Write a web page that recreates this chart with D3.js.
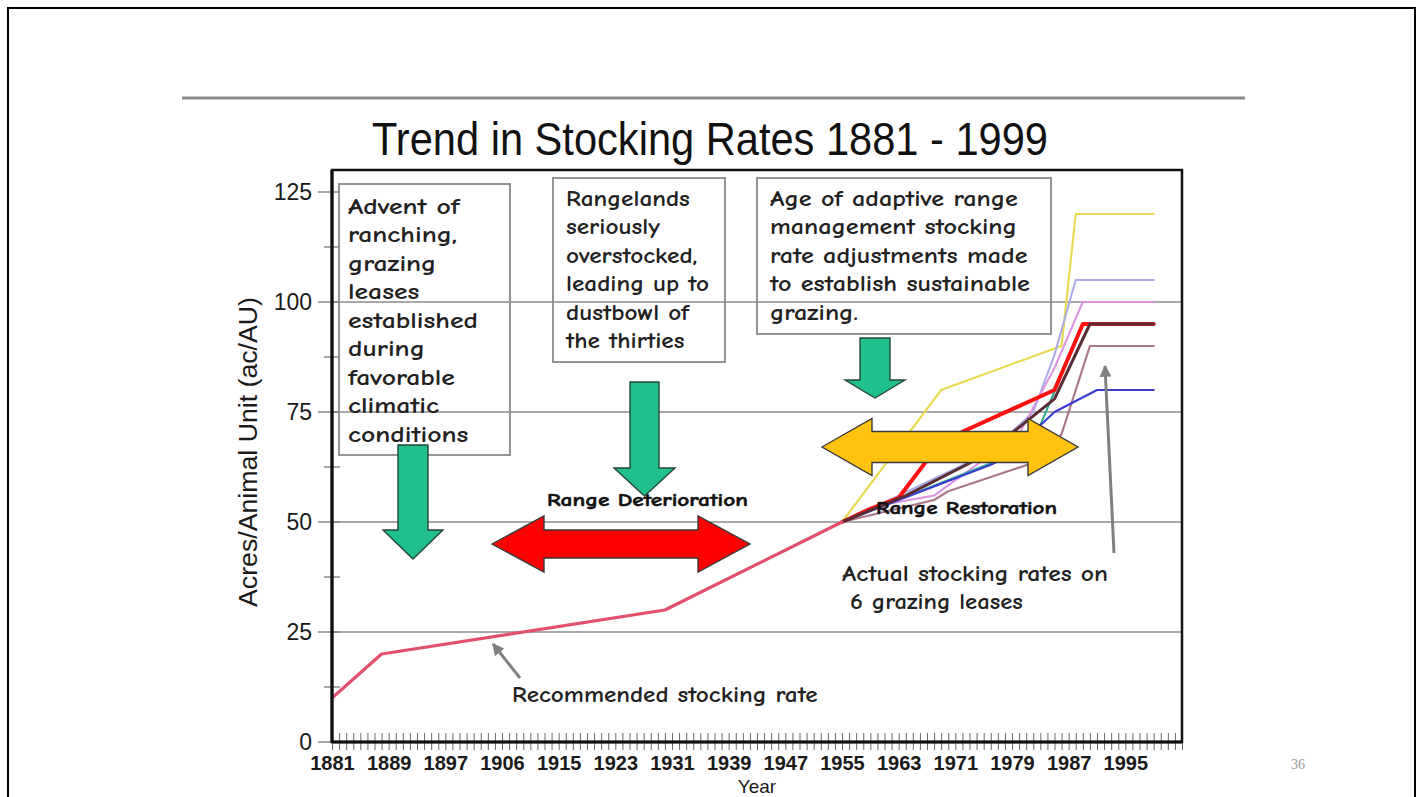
<!DOCTYPE html>
<html>
<head>
<meta charset="utf-8">
<script src="https://cdn.jsdelivr.net/npm/d3@7"></script>
<style>
  html, body { margin: 0; padding: 0; background: #fff; }
  svg { display: block; }
</style>
</head>
<body>
<svg id="chart" width="1423" height="797"></svg>
<script>
// ---- data ----
const tickYears = [1881, 1889, 1897, 1906, 1915, 1923, 1931, 1939, 1947, 1955, 1963, 1971, 1979, 1987, 1995];
const yTicks = [0, 25, 50, 75, 100, 125];
const gridValues = [25, 50, 75, 100];

// recommended stocking rate (acres per animal unit)
const recommended = [[1881, 10], [1888, 20], [1930, 30], [1955, 50]];

// actual stocking rates on the grazing leases
const leaseRed      = [[1955, 50], [1959, 53], [1963, 55.5], [1967, 64], [1972, 70.5], [1985, 80], [1989, 95], [1999, 95]];
const leaseYellow   = [[1955, 50], [1969, 80], [1986, 90], [1988, 120], [1999, 120]];
const leaseLavender = [[1955, 50], [1963, 56], [1976, 66], [1982, 75], [1985, 88], [1988, 105], [1999, 105]];
const leaseOrchid   = [[1955, 50], [1961, 54], [1968, 56], [1980, 70], [1985, 85], [1989, 100], [1999, 100]];
const leaseTeal     = [[1955, 50], [1966, 57], [1977, 64], [1983, 72], [1989, 95], [1999, 95]];
const leaseMaroon   = [[1955, 50], [1964, 56], [1975, 65], [1985, 78], [1990, 95], [1999, 95]];
const leaseRosy     = [[1955, 50], [1968, 55], [1970, 57], [1983, 64], [1986, 70], [1990, 90], [1999, 90]];
const leaseBlue     = [[1955, 50], [1963, 55], [1976, 63], [1981, 67], [1983, 72], [1985, 75], [1991, 80], [1999, 80]];

const annotationFont = "'Comic Sans MS', 'Comic Neue', 'DejaVu Sans', sans-serif";
const axisFont = "'Liberation Sans', Arial, sans-serif";

// ---- layout ----
const W = 1423, H = 797;
const plot = { left: 332, right: 1182, top: 170, bottom: 742 };
const slotCount = 120;              // category slots along the year axis

const svg = d3.select("#chart");
svg.append("rect").attr("width", W).attr("height", H).attr("fill", "#fff");

// slide frame
svg.append("path")
  .attr("d", `M8,${H + 5} V8 H1415 V${H + 5}`)
  .attr("fill", "none").attr("stroke", "#000").attr("stroke-width", 2);

// rule above the title
svg.append("line")
  .attr("x1", 182).attr("x2", 1245).attr("y1", 98).attr("y2", 98)
  .attr("stroke", "#8a8a8a").attr("stroke-width", 3);

// title
svg.append("text")
  .attr("x", 372).attr("y", 155)
  .attr("font-family", axisFont).attr("font-size", 46)
  .attr("textLength", 676).attr("lengthAdjust", "spacingAndGlyphs")
  .attr("fill", "#111")
  .text("Trend in Stocking Rates 1881 - 1999");

// page number
svg.append("text")
  .attr("x", 1298).attr("y", 769).attr("text-anchor", "middle")
  .attr("font-family", "'Liberation Serif', serif").attr("font-size", 14)
  .attr("fill", "#9a9a9a").text("36");

// ---- scales ----
const xSlot = d3.scaleLinear().domain([0, slotCount]).range([plot.left, plot.right]);
const x = d3.scaleLinear().domain(tickYears).range(tickYears.map((d, i) => xSlot(i * 8)));
const y = d3.scaleLinear().domain([0, 130]).range([plot.bottom, plot.top]);

const g = svg.append("g");

// horizontal gridlines
g.selectAll("line.grid").data(gridValues).join("line")
  .attr("class", "grid")
  .attr("x1", plot.left).attr("x2", plot.right)
  .attr("y1", d => y(d)).attr("y2", d => y(d))
  .attr("stroke", "#8c8c8c").attr("stroke-width", 1.6);

// x category ticks (crossing the axis)
function styleTicks(sel) {
  sel.select(".domain").remove();
  sel.selectAll(".tick line").attr("stroke", "#6a6a6a").attr("stroke-width", 1);
}
g.append("g").attr("transform", `translate(0,${plot.bottom})`)
  .call(d3.axisBottom(xSlot).tickValues(d3.range(0, slotCount + 1)).tickSize(8).tickFormat(""))
  .call(styleTicks);
g.append("g").attr("transform", `translate(0,${plot.bottom})`)
  .call(d3.axisBottom(xSlot).tickValues(d3.range(0, slotCount + 1)).tickSize(-9).tickFormat(""))
  .call(styleTicks);

// x tick labels
const xLab = g.append("g").attr("transform", `translate(0,${plot.bottom})`)
  .call(d3.axisBottom(x).tickValues(tickYears).tickSize(0).tickFormat(d3.format("d")));
xLab.select(".domain").remove();
xLab.selectAll(".tick text")
  .attr("y", 28).attr("dy", 0)
  .attr("font-family", axisFont).attr("font-size", 20).attr("font-weight", "bold")
  .attr("fill", "#1a1a1a");

// y ticks: major and minor
const yMinor = yTicks.slice(0, -1).map(d => d + 12.5);
g.selectAll("line.ymaj").data(yTicks).join("line")
  .attr("class", "ymaj")
  .attr("x1", plot.left - 14).attr("x2", plot.left + 8)
  .attr("y1", d => y(d)).attr("y2", d => y(d))
  .attr("stroke", "#7a7a7a").attr("stroke-width", 1.3);
g.selectAll("line.ymin").data(yMinor).join("line")
  .attr("class", "ymin")
  .attr("x1", plot.left - 8).attr("x2", plot.left + 8)
  .attr("y1", d => y(d)).attr("y2", d => y(d))
  .attr("stroke", "#7a7a7a").attr("stroke-width", 1.3);

// y tick labels
g.selectAll("text.ylab").data(yTicks).join("text")
  .attr("class", "ylab")
  .attr("x", plot.left - 20).attr("y", d => y(d)).attr("dy", "0.36em")
  .attr("text-anchor", "end")
  .attr("font-family", axisFont).attr("font-size", 23).attr("fill", "#1a1a1a")
  .text(d => d);

// axis titles
svg.append("text")
  .attr("transform", "rotate(-90)")
  .attr("x", -607).attr("y", 257)
  .attr("font-family", axisFont).attr("font-size", 26)
  .attr("textLength", 310).attr("lengthAdjust", "spacingAndGlyphs")
  .attr("fill", "#1a1a1a")
  .text("Acres/Animal Unit (ac/AU)");
svg.append("text")
  .attr("x", (plot.left + plot.right) / 2).attr("y", 792.5).attr("text-anchor", "middle")
  .attr("font-family", axisFont).attr("font-size", 19).attr("fill", "#1a1a1a")
  .text("Year");

// stretch a multi-line text horizontally so its widest line spans `target` px
function fitWidth(textSel, anchorX, target) {
  let widest = 0;
  textSel.selectAll("tspan").each(function () {
    widest = Math.max(widest, this.getComputedTextLength());
  });
  if (!widest) widest = textSel.node().getComputedTextLength();
  const k = target / widest;
  textSel.attr("transform", `translate(${anchorX},0) scale(${k},1) translate(${-anchorX},0)`);
}

// ---- annotation boxes (outlined, transparent) ----
const boxes = [
  { x: 339, y: 184, w: 171, h: 271, tx: 348, ty: 214, fit: 130,
    lines: ["Advent of", "ranching,", "grazing", "leases", "established", "during", "favorable", "climatic", "conditions"] },
  { x: 553, y: 178, w: 172, h: 184, tx: 566, ty: 206, fit: 143,
    lines: ["Rangelands", "seriously", "overstocked,", "leading up to", "dustbowl of", "the thirties"] },
  { x: 757, y: 178, w: 294, h: 156, tx: 770, ty: 206, fit: 260,
    lines: ["Age of adaptive range", "management stocking", "rate adjustments made", "to establish sustainable", "grazing."] }
];
boxes.forEach(b => {
  g.append("rect")
    .attr("x", b.x).attr("y", b.y).attr("width", b.w).attr("height", b.h)
    .attr("fill", "none").attr("stroke", "#8a8a8a").attr("stroke-width", 1.8);
  const t = g.append("text")
    .attr("font-family", annotationFont).attr("font-size", 22).attr("font-weight", 700)
    .attr("fill", "#222");
  b.lines.forEach((ln, i) => {
    t.append("tspan").attr("x", b.tx).attr("y", b.ty + i * 28.5).text(ln);
  });
  fitWidth(t, b.tx, b.fit);
});

// ---- series lines ----
const line = d3.line().x(d => x(d[0])).y(d => y(d[1]));
const seriesStyles = [
  { data: leaseYellow,   color: "#e8da52", width: 2.2 },
  { data: leaseLavender, color: "#a9a9e6", width: 2 },
  { data: leaseOrchid,   color: "#dd92e2", width: 2 },
  { data: leaseTeal,     color: "#2aa88e", width: 2 },
  { data: leaseRosy,     color: "#a8788a", width: 2.2 },
  { data: leaseBlue,     color: "#3c3cd0", width: 2.2 },
  { data: leaseRed,      color: "#ff1010", width: 4 },
  { data: leaseMaroon,   color: "#5a2c34", width: 3 },
  { data: recommended,   color: "#e2506e", width: 3.2 }
];
g.selectAll("path.series").data(seriesStyles).join("path")
  .attr("class", "series")
  .attr("d", d => line(d.data))
  .attr("fill", "none")
  .attr("stroke", d => d.color).attr("stroke-width", d => d.width)
  .attr("stroke-linejoin", "round").attr("stroke-linecap", "round");

// ---- block arrows ----
function downArrow(cx, top, shaftW, headY, headW, tipY) {
  const s = shaftW / 2, h = headW / 2;
  return `M${cx - s},${top} H${cx + s} V${headY} H${cx + h} L${cx},${tipY} L${cx - h},${headY} H${cx - s} Z`;
}
function doubleArrow(x0, x1, cy, shaftHalf, headHalf, headLen) {
  return `M${x0},${cy} L${x0 + headLen},${cy - headHalf} V${cy - shaftHalf} H${x1 - headLen} V${cy - headHalf} ` +
         `L${x1},${cy} L${x1 - headLen},${cy + headHalf} V${cy + shaftHalf} H${x0 + headLen} V${cy + headHalf} Z`;
}

// section labels
g.append("text")
  .attr("x", 547).attr("y", 506)
  .attr("font-family", annotationFont).attr("font-size", 18).attr("font-weight", "bold")
  .attr("textLength", 201).attr("lengthAdjust", "spacingAndGlyphs")
  .attr("fill", "#111").attr("stroke", "#111").attr("stroke-width", 0.5)
  .text("Range Deterioration");
g.append("text")
  .attr("x", 876).attr("y", 514)
  .attr("font-family", annotationFont).attr("font-size", 18).attr("font-weight", "bold")
  .attr("textLength", 181).attr("lengthAdjust", "spacingAndGlyphs")
  .attr("fill", "#111").attr("stroke", "#111").attr("stroke-width", 0.5)
  .text("Range Restoration");

const arrowStroke = "#3a3a3a";
g.append("path").attr("d", doubleArrow(492, 750, 544, 14, 28, 52))
  .attr("fill", "#ff0000").attr("stroke", arrowStroke).attr("stroke-width", 1.4);
g.append("path").attr("d", doubleArrow(822, 1078, 447, 15.5, 28.5, 50))
  .attr("fill", "#ffc20e").attr("stroke", arrowStroke).attr("stroke-width", 1.4);

[[413, 445, 30, 530, 60, 559], [644.5, 382, 29, 468, 61, 496], [875, 338, 30, 380, 60, 398]]
  .forEach(a => {
    g.append("path").attr("d", downArrow(...a))
      .attr("fill", "#1fc08e").attr("stroke", "#27453a").attr("stroke-width", 1.4);
  });

// callout labels
const callouts = [
  { x: 842, y: 581, fit: 266, text: "Actual stocking rates on" },
  { x: 850, y: 609, fit: 173, text: "6 grazing leases" },
  { x: 512, y: 702, fit: 306, text: "Recommended stocking rate" }
];
callouts.forEach(c => {
  const t = g.append("text").attr("x", c.x).attr("y", c.y)
    .attr("font-family", annotationFont).attr("font-size", 22).attr("font-weight", 700)
    .attr("fill", "#222").text(c.text);
  fitWidth(t, c.x, c.fit);
});

// thin gray pointer arrows
const defs = svg.append("defs");
defs.append("marker")
  .attr("id", "grayHead").attr("viewBox", "0 0 10 10")
  .attr("refX", 9).attr("refY", 5)
  .attr("markerWidth", 4).attr("markerHeight", 4)
  .attr("markerUnits", "strokeWidth")
  .attr("orient", "auto")
  .append("path").attr("d", "M0,0 L10,5 L0,10 Z").attr("fill", "#808080");

[[520, 678, 493, 644], [1114, 553, 1105, 366]].forEach(p => {
  g.append("line")
    .attr("x1", p[0]).attr("y1", p[1]).attr("x2", p[2]).attr("y2", p[3])
    .attr("stroke", "#808080").attr("stroke-width", 3)
    .attr("marker-end", "url(#grayHead)");
});

// plot frame drawn last so it sits on top
g.append("rect")
  .attr("x", plot.left).attr("y", plot.top)
  .attr("width", plot.right - plot.left).attr("height", plot.bottom - plot.top)
  .attr("fill", "none").attr("stroke", "#111").attr("stroke-width", 2.5);
g.append("line").attr("x1", plot.left).attr("x2", plot.left)
  .attr("y1", plot.top).attr("y2", plot.bottom + 1)
  .attr("stroke", "#111").attr("stroke-width", 3.2);
g.append("line").attr("x1", plot.left).attr("x2", plot.right)
  .attr("y1", plot.bottom).attr("y2", plot.bottom)
  .attr("stroke", "#111").attr("stroke-width", 3.2);
</script>
</body>
</html>
